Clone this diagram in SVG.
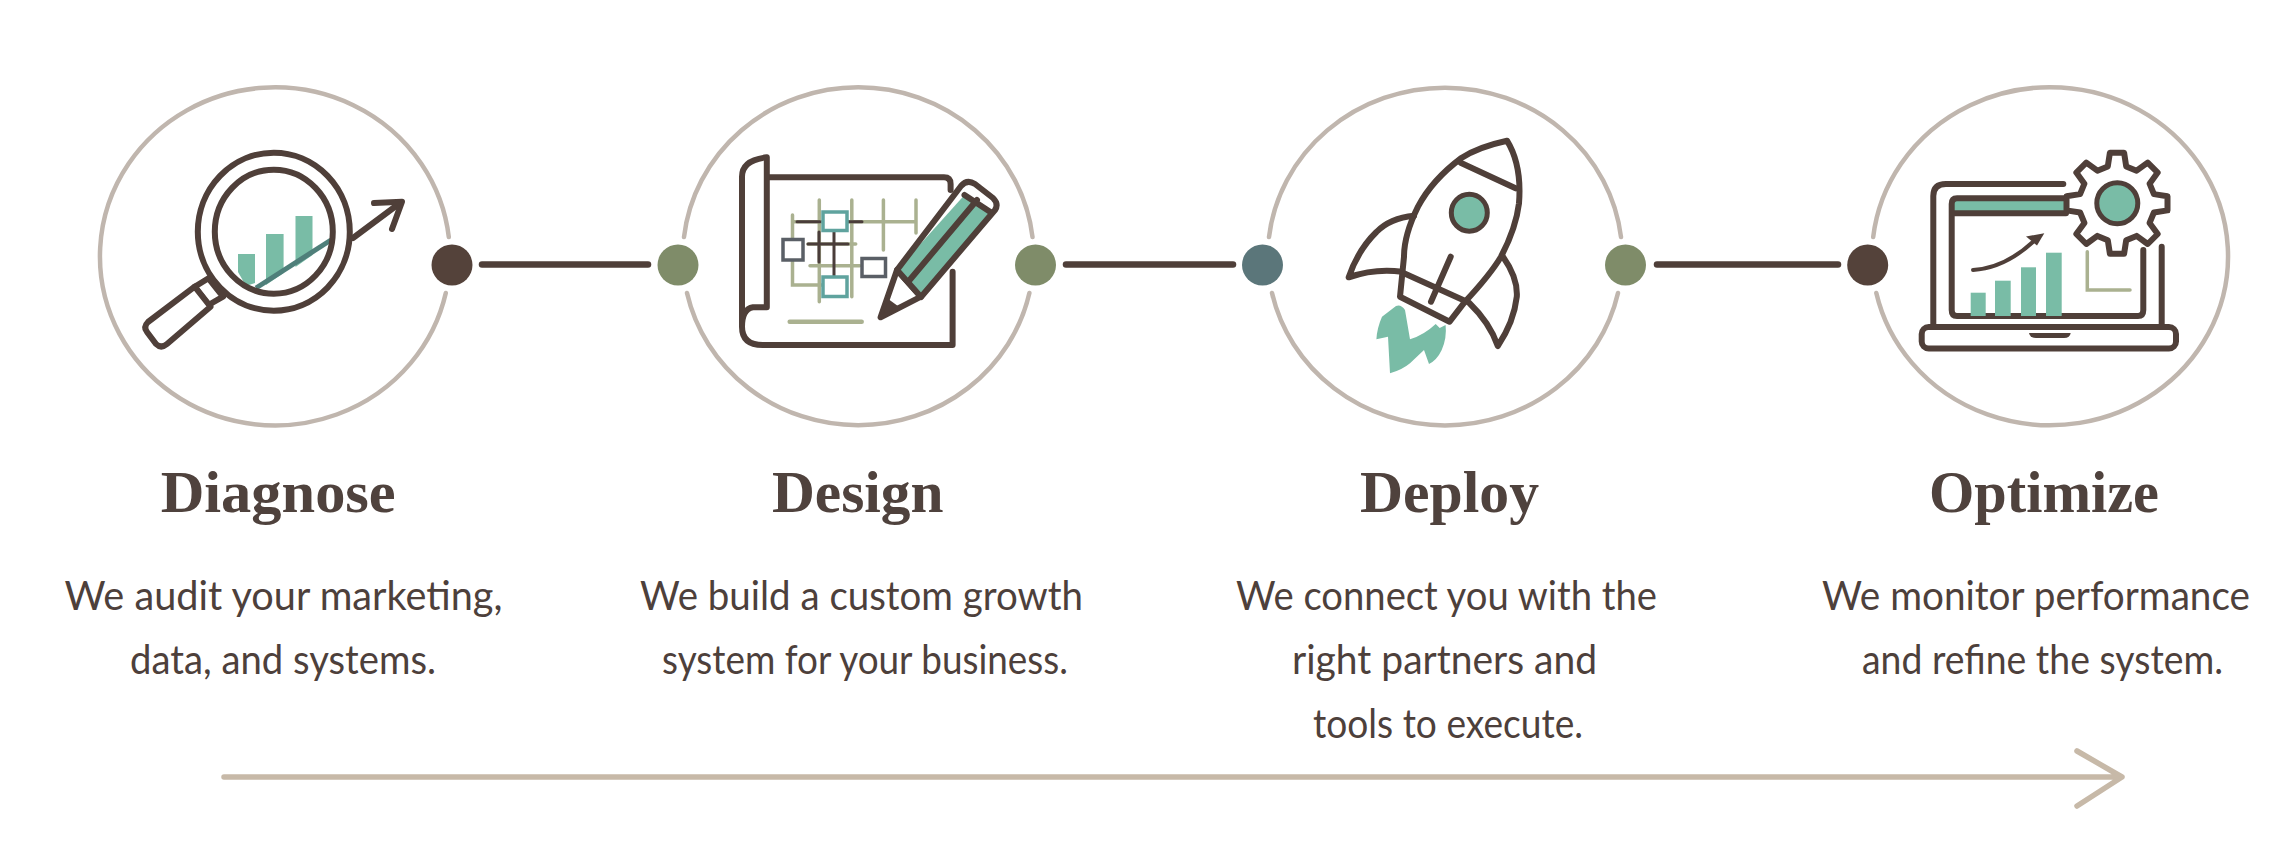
<svg xmlns="http://www.w3.org/2000/svg" width="2280" height="859" viewBox="0 0 2280 859">
<style>
.ring{fill:none;stroke:#c0b6ae;stroke-width:4.500;stroke-linecap:round}
.ln{fill:none;stroke:#4f3f39;stroke-width:6;stroke-linecap:round;stroke-linejoin:round}
.lw{fill:#fff;stroke:#4f3f39;stroke-width:6;stroke-linecap:round;stroke-linejoin:round}
.mint{fill:#79bca6}
.ol{fill:none;stroke:#aab190;stroke-width:3.500;stroke-linecap:round}
.dk{fill:none;stroke:#4a3d3a;stroke-width:3;stroke-linecap:round}
.conn{fill:none;stroke:#4f3f39;stroke-width:6.500;stroke-linecap:round}
.brown{fill:#54423a}.olive{fill:#7f8c69}.slate{fill:#5b767a}
.t{font-family:"Liberation Serif",serif;font-weight:700;font-size:60px;fill:#4f423d}
.b{font-family:Lato,"Noto Sans",sans-serif;font-size:41px;fill:#4d403b}
</style>
<rect width="2280" height="859" fill="#fff"/>

<g id="connectors">
<path class="conn" d="M482 264.500H648"/>
<path class="conn" d="M1066 264.500H1233"/>
<path class="conn" d="M1657 264.500H1838"/>
<path id="timeline" d="M224 777H2121M2077 751L2122 777L2077 806" fill="none" stroke="#c7b9a8" stroke-width="5.500" stroke-linecap="round" stroke-linejoin="round"/>
</g>

<g id="node-diagnose">
<path class="ring" d="M448.800 237A175 169 0 1 0 445.800 293"/>
<circle class="brown" cx="452" cy="265" r="20.500"/>
<circle class="olive" cx="678" cy="265" r="20.500"/>
<path class="mint" d="M238 254H255V283L246 286L238 272Z"/>
<path class="mint" d="M266 234H283.600V273L266 285Z"/>
<path class="mint" d="M295.500 216H312.500V255L295.500 267Z"/>
<path d="M256 288L331 240" fill="none" stroke="#4f7f7a" stroke-width="5"/>
<ellipse class="ln" cx="273.800" cy="231.700" rx="76" ry="79" stroke-width="6.500"/>
<ellipse class="ln" cx="273.800" cy="231.700" rx="59" ry="62"/>
<path class="lw" d="M208.500 278.300L194.700 286.700L208.500 305L223 296.700Z"/>
<path class="lw" d="M194.700 286.700L148 322Q143 327 147 332L156 344Q161 349 167 344L210.500 306.700Z"/>
<path class="ln" d="M353 238L400 203" stroke-width="7"/>
<path class="ln" d="M374 203L402 201.700L392 229" stroke-width="7.500"/>
<text class="t" x="160.700" y="511.700" textLength="235" lengthAdjust="spacingAndGlyphs">Diagnose</text>
<text class="b" x="64.500" y="610" textLength="438" lengthAdjust="spacingAndGlyphs">We audit your marketing,</text>
<text class="b" x="130" y="674" textLength="306" lengthAdjust="spacingAndGlyphs">data, and systems.</text>
</g>

<g id="node-design">
<path class="ring" d="M684 237A175.400 169 0 0 1 1032.500 237"/>
<path class="ring" d="M1029.400 293A175.400 169 0 0 1 687 293"/>
<circle class="olive" cx="1035.500" cy="265" r="20.500"/>
<path class="ln" d="M768.700 177.300H944Q950.600 177.300 950.600 184V190"/>
<path class="ln" d="M952.600 271.700V345H762.800Q742 345 742 326.700V176.700Q742 160 766.800 157.300V307.300H753Q742 309 742 326.700"/>
<path class="ol" d="M792.500 215V285H822M819.300 200V301.700M851.800 200V296.700M883.400 200V250M916 200V233M792.500 221.700H916M808 244H855.700M810 265.700H859.700"/>
<path class="ol" d="M789.700 321.700H861.700" style="stroke-width:4.500px"/>
<path class="dk" d="M797 221.700H820M848 221.700H862M808 244H848M834 230V276.700M819 232V262"/>
<rect x="823" y="212" width="24" height="18.500" fill="#fff" stroke="#5fa39e" stroke-width="3.500"/>
<rect x="823" y="277" width="24" height="19.500" fill="#fff" stroke="#5fa39e" stroke-width="3.500"/>
<rect x="783" y="239.500" width="20" height="20.500" fill="#fff" stroke="#5a5f66" stroke-width="3.500"/>
<rect x="862" y="258.500" width="23.500" height="18" fill="#fff" stroke="#5a5f66" stroke-width="3.500"/>
<path class="lw" d="M897 270L880.600 317.300L921 296.700Z"/>
<path d="M880.600 317.300L887 300L898 308Z" fill="#4f3f39" stroke="#4f3f39" stroke-width="3" stroke-linejoin="round"/>
<path class="mint" d="M897 270L964.500 195L990 211.700L921 297Z"/>
<path class="ln" d="M897 270L961 186Q967 179 975 184L993 198Q999 204 995 210L921 297Z"/>
<path class="ln" d="M964.500 195L990 211.700M908 282L977 200"/>
<text class="t" x="772" y="511.700" textLength="171.500" lengthAdjust="spacingAndGlyphs">Design</text>
<text class="b" x="640" y="610" textLength="443" lengthAdjust="spacingAndGlyphs">We build a custom growth</text>
<text class="b" x="662" y="674" textLength="406" lengthAdjust="spacingAndGlyphs">system for your business.</text>
</g>

<g id="node-deploy">
<path class="ring" d="M1269 237A177.200 169 0 0 1 1621 237"/>
<path class="ring" d="M1618 293A177.200 169 0 0 1 1272 293"/>
<circle class="slate" cx="1262.500" cy="265" r="20.500"/>
<circle class="olive" cx="1625.500" cy="265" r="20.500"/>
<path class="mint" d="M1396 306L1382 316.700Q1377 328 1376.400 339.300L1388 336.700L1390 373.300Q1402 370 1410 363.300L1424 350L1429 364Q1437 360 1441.700 350Q1447 338 1445.600 325L1439.700 328L1435.700 324Q1424 335 1410 339.300L1405 310Q1401 304 1396 306Z"/>
<path class="ln" d="M1507 140.700Q1478 147 1461.400 158Q1432 180 1418 206.700Q1404 235 1404 256.700L1400 296.700L1449.600 321.700L1465 301.700Q1490 275 1501 256.700Q1516 228 1519 203.300Q1522 165 1507 140.700Z"/>
<path class="ln" d="M1460.600 162.700L1515.600 188.300M1404 273.300L1467 301.700M1450.700 256.700L1431 301.700"/>
<ellipse cx="1469.300" cy="212.700" rx="18" ry="18.500" fill="#79bca6" stroke="#4f3f39" stroke-width="5"/>
<path class="ln" d="M1414 215.700Q1390 218 1376.400 232Q1358 250 1348.700 277.300Q1375 268 1402 271.700"/>
<path class="ln" d="M1503 256.700Q1518 278 1516.800 296.700Q1514 322 1497.800 346Q1490 323 1469.300 303"/>
<text class="t" x="1360" y="511.700" textLength="179" lengthAdjust="spacingAndGlyphs">Deploy</text>
<text class="b" x="1236" y="610" textLength="421" lengthAdjust="spacingAndGlyphs">We connect you with the</text>
<text class="b" x="1292" y="674" textLength="305" lengthAdjust="spacingAndGlyphs">right partners and</text>
<text class="b" x="1313" y="738" textLength="270" lengthAdjust="spacingAndGlyphs">tools to execute.</text>
</g>

<g id="node-optimize">
<path class="ring" d="M1873.200 237A178 169 0 1 1 1876.300 293"/>
<circle class="brown" cx="1867.700" cy="265" r="20.500"/>
<path class="ln" d="M2063.300 184H1946Q1933.300 184 1933.300 196V326.700M2161.700 246.700V326.700"/>
<rect x="1952" y="200" width="114" height="13" class="mint"/>
<path class="ln" d="M2066 198.300H1957Q1951.700 198.300 1951.700 204V310Q1951.700 316 1957 316H2138Q2143.300 316 2143.300 310V250M1951.700 213.300H2066"/>
<rect class="mint" x="1970.700" y="292.700" width="15" height="23.300"/>
<rect class="mint" x="1995" y="280.700" width="15.700" height="35.300"/>
<rect class="mint" x="2021" y="267.300" width="15" height="48.700"/>
<rect class="mint" x="2046" y="252.700" width="15.700" height="63.300"/>
<path d="M1973 270Q2005 268 2034 241" fill="none" stroke="#4f3f39" stroke-width="4" stroke-linecap="round"/>
<path d="M2044.300 233.300L2026 236.500L2037 245.500Z" fill="#4f3f39"/>
<path class="ol" d="M2087.300 251.700V290H2130"/>
<rect class="lw" x="1921.700" y="327" width="254.300" height="21.500" rx="7"/>
<path d="M2029 333H2070.700Q2070 338 2064 338H2036Q2030 338 2029 333Z" fill="#4f3f39"/>
<path class="lw" transform="translate(2117 203.300)" d="M36.900 9.200L50.500 7.100V-7.100L36.900 -9.200L32.600 -19.600L40.700 -30.700L30.700 -40.700L19.600 -32.600L9.200 -36.900L7.100 -50.500H-7.100L-9.200 -36.900L-19.600 -32.600L-30.700 -40.700L-40.700 -30.700L-32.600 -19.600L-36.900 -9.200L-50.500 -7.100V7.100L-36.900 9.200L-32.600 19.600L-40.700 30.700L-30.700 40.700L-19.600 32.600L-9.200 36.900L-7.100 50.500H7.100L9.200 36.900L19.600 32.600L30.700 40.700L40.700 30.700L32.600 19.600Z"/>
<circle cx="2117.300" cy="203.300" r="20.500" fill="#79bca6" stroke="#4f3f39" stroke-width="5"/>
<text class="t" x="1929" y="511.700" textLength="230" lengthAdjust="spacingAndGlyphs">Optimize</text>
<text class="b" x="1822" y="610" textLength="428" lengthAdjust="spacingAndGlyphs">We monitor performance</text>
<text class="b" x="1862" y="674" textLength="361" lengthAdjust="spacingAndGlyphs">and refine the system.</text>
</g>
</svg>
